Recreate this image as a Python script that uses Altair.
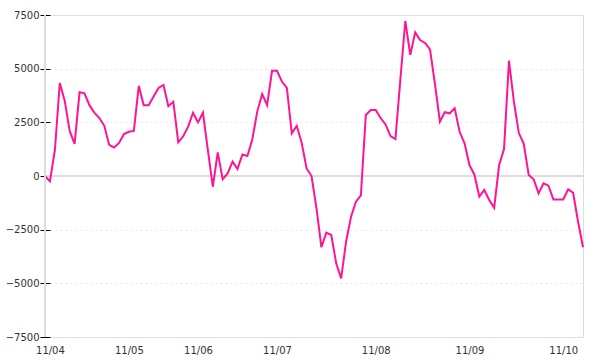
import altair as alt
import pandas as pd

values = [
    0, -250, 1200, 4330, 3500, 2100, 1500, 3900, 3850, 3300,
    2950, 2700, 2350, 1450, 1330, 1540, 1950, 2060, 2100, 4200,
    3300, 3300, 3700, 4100, 4240, 3250, 3460, 1570, 1850, 2300,
    2950, 2500, 2950, 1200, -500, 1100, -150, 120, 670, 330,
    1000, 930, 1700, 3000, 3820, 3300, 4900, 4900, 4400, 4110,
    1990, 2340, 1550, 350, 0, -1500, -3320, -2640, -2750, -4070,
    -4770, -3060, -1900, -1200, -900, 2840, 3070, 3070, 2700, 2400,
    1860, 1720, 4500, 7220, 5640, 6690, 6330, 6200, 5900, 4300,
    2530, 2970, 2920, 3150, 2060, 1520, 510, 60, -960, -650,
    -1120, -1480, 500, 1250, 5370, 3460, 2000, 1500, 50, -150,
    -810, -340, -450, -1090, -1090, -1090, -620, -780, -2130, -3320,
]
tick_idx = [1, 17, 31, 47, 67, 86, 105]
tick_labels = ["11/04", "11/05", "11/06", "11/07", "11/08", "11/09", "11/10"]
y_ticks = [-7500, -5000, -2500, 0, 2500, 5000, 7500]

df = pd.DataFrame({"i": list(range(len(values))), "v": values})

label_expr = (
    "[" + ",".join(f"'{l}'" for l in tick_labels) + "][indexof(["
    + ",".join(str(t) for t in tick_idx) + "], datum.value)]"
)

FONT = "DejaVu Sans"
n = len(values) - 1

x_enc = alt.X(
    "i:Q",
    scale=alt.Scale(domain=[0, n], nice=False, zero=False),
    axis=alt.Axis(
        values=tick_idx, labelExpr=label_expr, title=None, grid=False,
        domain=False, ticks=False, labelPadding=8, labelFont=FONT,
        labelFontSize=10, labelColor="#333333",
    ),
)
y_enc = alt.Y(
    "v:Q",
    scale=alt.Scale(domain=[-7500, 7500], nice=False),
    axis=alt.Axis(
        values=y_ticks, format="d", title=None, grid=True,
        gridColor="#e6e6e6", gridDash=[2, 3], gridWidth=1,
        domain=False, ticks=True, tickSize=10, tickColor="#000000",
        tickWidth=1, offset=-5, labelPadding=1, labelFont=FONT,
        labelFontSize=10, labelColor="#333333",
    ),
)

line = alt.Chart(df).mark_line(color="#ff1493", strokeWidth=2).encode(x=x_enc, y=y_enc)

zero = alt.Chart(df).mark_rule(color="#dddddd", strokeWidth=1).encode(
    y=alt.datum(0), x=alt.value(0), x2=alt.value(538)
)
left = alt.Chart(df).mark_rule(color="#dddddd", strokeWidth=1).encode(
    x=alt.value(0), y=alt.value(0), y2=alt.value(322)
)

chart = alt.layer(zero, line, left).properties(
    width=538, height=322,
    padding={"left": 45, "top": 15, "right": 17, "bottom": 23},
    autosize=alt.AutoSizeParams(type="none"),
).configure_view(stroke=None).configure(background="white")

chart.save("out.html", embed_options={"renderer": "svg", "actions": False})
